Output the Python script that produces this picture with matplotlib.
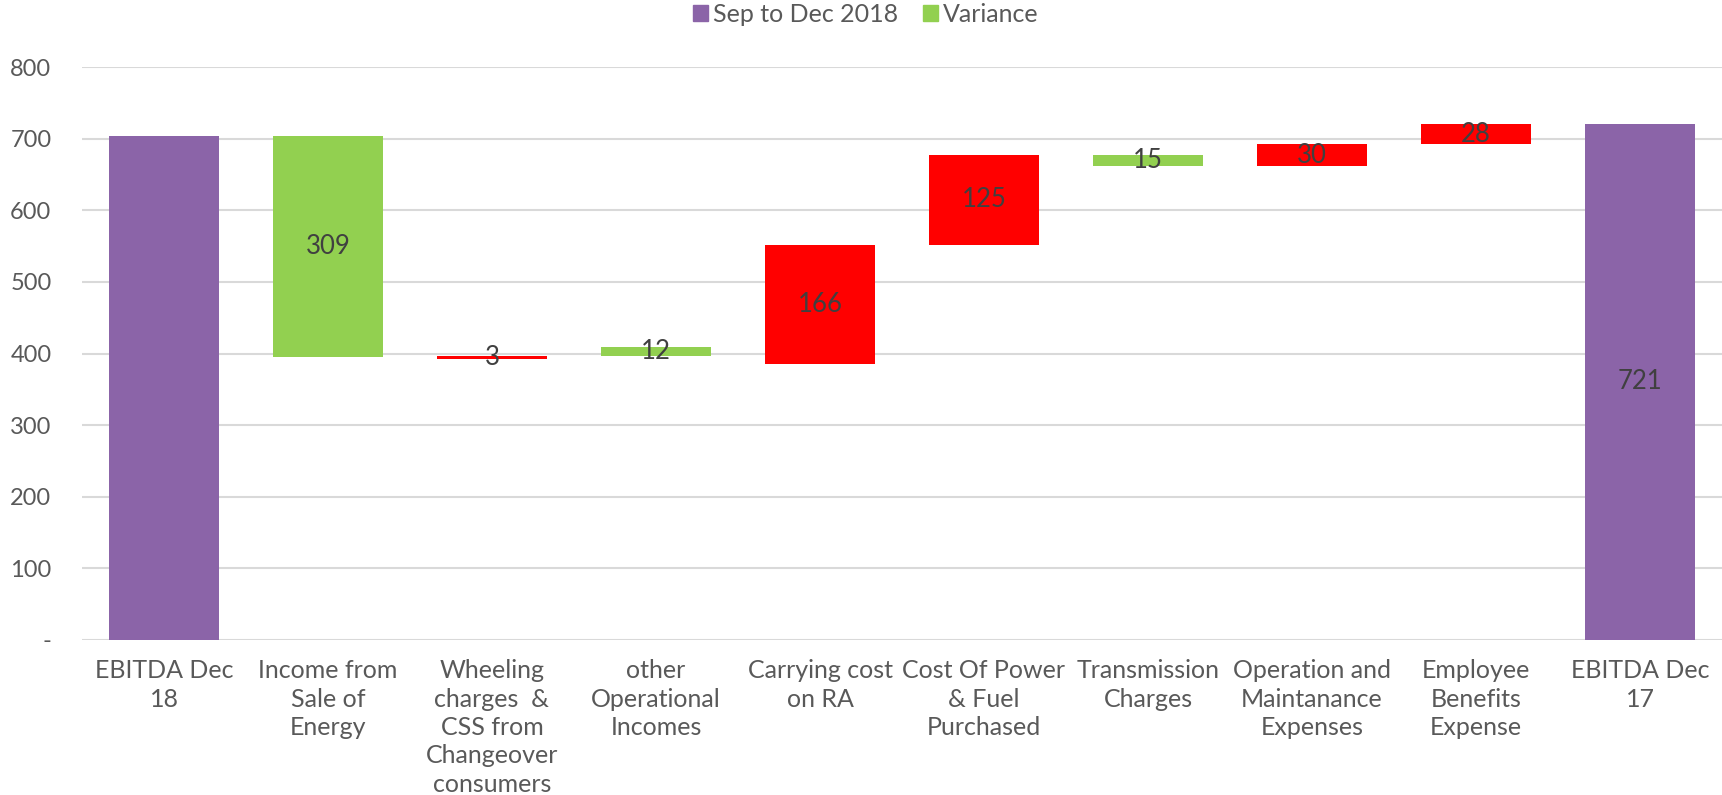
import matplotlib
matplotlib.use("Agg")
import matplotlib.pyplot as plt
from matplotlib.patches import Patch

categories = ["EBITDA Dec\n18", "Income from\nSale of\nEnergy",
              "Wheeling\ncharges  &\nCSS from\nChangeover\nconsumers",
              "other\nOperational\nIncomes", "Carrying cost\non RA",
              "Cost Of Power\n& Fuel\nPurchased", "Transmission\nCharges",
              "Operation and\nMaintanance\nExpenses", "Employee\nBenefits\nExpense",
              "EBITDA Dec\n17"]
values = [704, 309, 3, 12, 166, 125, 15, 30, 28, 721]
bases = [0, 395, 393, 397, 386, 552, 662, 662, 692, 0]
kinds = ["total", "up", "down", "up", "down", "down", "up", "down", "down", "total"]
show_label = [False, True, True, True, True, True, True, True, True, True]
yticks = [0, 100, 200, 300, 400, 500, 600, 700, 800]
ytick_labels = ["-", "100", "200", "300", "400", "500", "600", "700", "800"]

PURPLE = "#8B64A8"
GREEN = "#92D050"
RED = "#FF0000"
colors = {"total": PURPLE, "up": GREEN, "down": RED}

plt.rcParams['font.family'] = ['Lato', 'DejaVu Sans']

fig = plt.figure(figsize=(17.22, 7.95), dpi=100)
ax = fig.add_axes([82 / 1722, (795 - 640) / 795, (1722 - 82) / 1722, (640 - 67) / 795])

x = list(range(len(categories)))
ax.bar(x, values, bottom=bases, width=0.665,
       color=[colors[k] for k in kinds], zorder=3)

for xi, v, b, s in zip(x, values, bases, show_label):
    if s:
        ax.text(xi, b + v / 2, str(v), ha="center", va="center",
                fontsize=18.5, color="#404040", zorder=4)

ax.set_xlim(-0.5, len(categories) - 0.5)
ax.set_ylim(0, 800)
ax.set_yticks(yticks)
ax.set_yticklabels(ytick_labels)
ax.set_xticks(x)
ax.set_xticklabels(categories, linespacing=1.28)
ax.tick_params(axis="x", length=0, labelsize=18, colors="#595959", pad=14)
ax.tick_params(axis="y", length=0, labelsize=17, colors="#595959", pad=22)
for lbl in ax.get_yticklabels():
    lbl.set_horizontalalignment("right")
ax.yaxis.grid(True, color="#D9D9D9", linewidth=1.5, zorder=0)
for sp in ax.spines.values():
    sp.set_visible(False)

handles = [Patch(color=PURPLE, label="Sep to Dec 2018"),
           Patch(color=GREEN, label="Variance")]
fig.legend(handles=handles, loc="center", bbox_to_anchor=(866 / 1722, 1 - 14 / 795),
           ncol=2, frameon=False, fontsize=18, handlelength=0.6, handleheight=0.6,
           handletextpad=0.2, columnspacing=1.0, labelcolor="#595959")

fig.savefig("out.png", dpi=100)
